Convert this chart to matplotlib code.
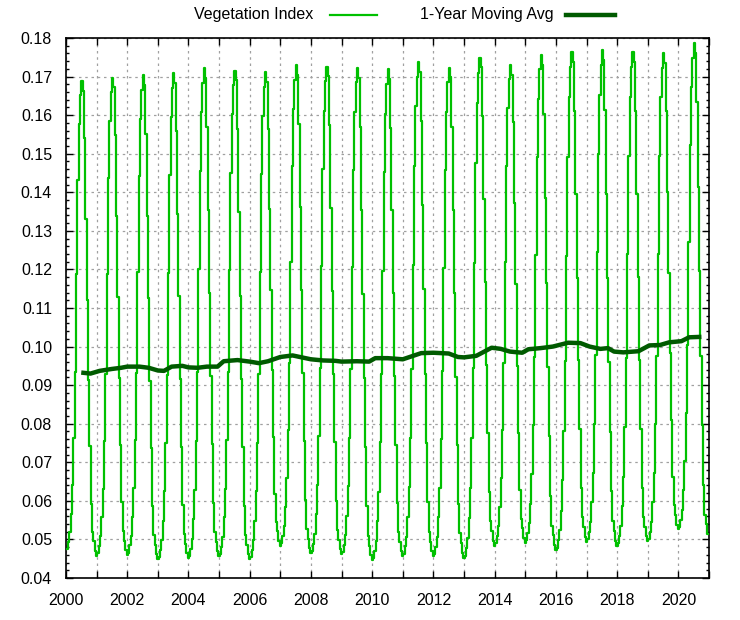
import numpy as np
import matplotlib
matplotlib.use("Agg")
import matplotlib.pyplot as plt
from matplotlib.lines import Line2D
from matplotlib.ticker import MultipleLocator, FormatStrFormatter

plt.rcParams['font.family'] = ['Liberation Sans', 'DejaVu Sans']

# 16-day composites, 23 per year, starting at 2000.0
samples_per_year = 23
vi_values = [
    0.0475, 0.0476, 0.0494, 0.0519, 0.0567, 0.0641, 0.0762, 0.0933, 0.1189, 0.1432, 0.1578, 0.1651, 0.1688, 0.1663, 0.1540, 0.1331, 0.1122, 0.0913, 0.0741, 0.0593, 0.0520, 0.0495, 0.0470,  # 2000
    0.0458, 0.0464, 0.0483, 0.0508, 0.0557, 0.0631, 0.0755, 0.0929, 0.1189, 0.1437, 0.1585, 0.1660, 0.1697, 0.1672, 0.1549, 0.1338, 0.1128, 0.0918, 0.0745, 0.0596, 0.0522, 0.0497, 0.0472,  # 2001
    0.0460, 0.0466, 0.0485, 0.0510, 0.0559, 0.0634, 0.0758, 0.0932, 0.1193, 0.1442, 0.1591, 0.1666, 0.1703, 0.1678, 0.1552, 0.1339, 0.1126, 0.0912, 0.0737, 0.0586, 0.0511, 0.0486, 0.0461,  # 2002
    0.0448, 0.0454, 0.0473, 0.0498, 0.0549, 0.0625, 0.0751, 0.0927, 0.1192, 0.1444, 0.1596, 0.1671, 0.1709, 0.1684, 0.1558, 0.1344, 0.1130, 0.0916, 0.0740, 0.0589, 0.0514, 0.0489, 0.0464,  # 2003
    0.0451, 0.0457, 0.0476, 0.0502, 0.0553, 0.0629, 0.0756, 0.0934, 0.1201, 0.1455, 0.1608, 0.1684, 0.1722, 0.1697, 0.1570, 0.1355, 0.1140, 0.0924, 0.0747, 0.0595, 0.0519, 0.0494, 0.0469,  # 2004
    0.0456, 0.0462, 0.0481, 0.0506, 0.0557, 0.0632, 0.0758, 0.0934, 0.1199, 0.1451, 0.1602, 0.1677, 0.1715, 0.1690, 0.1563, 0.1348, 0.1132, 0.0917, 0.0739, 0.0587, 0.0511, 0.0486, 0.0461,  # 2005
    0.0448, 0.0454, 0.0473, 0.0499, 0.0549, 0.0625, 0.0751, 0.0928, 0.1194, 0.1447, 0.1598, 0.1674, 0.1712, 0.1687, 0.1565, 0.1356, 0.1147, 0.0938, 0.0766, 0.0619, 0.0545, 0.0521, 0.0496,  # 2006
    0.0484, 0.0490, 0.0509, 0.0534, 0.0584, 0.0658, 0.0783, 0.0957, 0.1219, 0.1468, 0.1617, 0.1692, 0.1729, 0.1704, 0.1577, 0.1362, 0.1147, 0.0932, 0.0755, 0.0603, 0.0527, 0.0502, 0.0477,  # 2007
    0.0464, 0.0470, 0.0489, 0.0514, 0.0565, 0.0641, 0.0767, 0.0944, 0.1209, 0.1461, 0.1612, 0.1688, 0.1726, 0.1701, 0.1574, 0.1359, 0.1144, 0.0929, 0.0752, 0.0600, 0.0524, 0.0499, 0.0474,  # 2008
    0.0461, 0.0467, 0.0486, 0.0511, 0.0562, 0.0638, 0.0764, 0.0941, 0.1206, 0.1458, 0.1609, 0.1685, 0.1723, 0.1697, 0.1570, 0.1353, 0.1136, 0.0918, 0.0740, 0.0586, 0.0510, 0.0484, 0.0459,  # 2009
    0.0446, 0.0452, 0.0471, 0.0497, 0.0548, 0.0624, 0.0752, 0.0930, 0.1197, 0.1452, 0.1604, 0.1681, 0.1719, 0.1694, 0.1567, 0.1353, 0.1138, 0.0923, 0.0746, 0.0595, 0.0519, 0.0494, 0.0469,  # 2010
    0.0456, 0.0462, 0.0482, 0.0507, 0.0559, 0.0635, 0.0764, 0.0943, 0.1212, 0.1469, 0.1623, 0.1700, 0.1738, 0.1712, 0.1584, 0.1366, 0.1148, 0.0930, 0.0751, 0.0597, 0.0520, 0.0494, 0.0469,  # 2011
    0.0456, 0.0462, 0.0481, 0.0507, 0.0557, 0.0633, 0.0760, 0.0937, 0.1204, 0.1457, 0.1609, 0.1685, 0.1723, 0.1698, 0.1570, 0.1354, 0.1138, 0.0922, 0.0744, 0.0592, 0.0516, 0.0490, 0.0465,  # 2012
    0.0452, 0.0458, 0.0478, 0.0504, 0.0556, 0.0634, 0.0763, 0.0945, 0.1217, 0.1477, 0.1632, 0.1710, 0.1749, 0.1724, 0.1597, 0.1382, 0.1167, 0.0952, 0.0775, 0.0623, 0.0547, 0.0522, 0.0497,  # 2013
    0.0484, 0.0490, 0.0509, 0.0534, 0.0584, 0.0658, 0.0783, 0.0957, 0.1219, 0.1468, 0.1618, 0.1693, 0.1730, 0.1705, 0.1581, 0.1371, 0.1161, 0.0950, 0.0777, 0.0628, 0.0554, 0.0529, 0.0504,  # 2014
    0.0492, 0.0498, 0.0517, 0.0543, 0.0593, 0.0669, 0.0796, 0.0973, 0.1238, 0.1491, 0.1643, 0.1719, 0.1757, 0.1731, 0.1603, 0.1384, 0.1166, 0.0947, 0.0768, 0.0613, 0.0536, 0.0511, 0.0485,  # 2015
    0.0472, 0.0478, 0.0498, 0.0524, 0.0575, 0.0653, 0.0782, 0.0963, 0.1234, 0.1492, 0.1647, 0.1724, 0.1763, 0.1738, 0.1611, 0.1395, 0.1179, 0.0964, 0.0786, 0.0634, 0.0557, 0.0532, 0.0507,  # 2016
    0.0494, 0.0500, 0.0519, 0.0545, 0.0596, 0.0672, 0.0800, 0.0978, 0.1246, 0.1500, 0.1653, 0.1730, 0.1768, 0.1742, 0.1614, 0.1396, 0.1177, 0.0959, 0.0779, 0.0625, 0.0548, 0.0523, 0.0497,  # 2017
    0.0484, 0.0490, 0.0510, 0.0535, 0.0586, 0.0663, 0.0791, 0.0970, 0.1239, 0.1494, 0.1648, 0.1725, 0.1763, 0.1738, 0.1611, 0.1395, 0.1180, 0.0964, 0.0787, 0.0634, 0.0558, 0.0533, 0.0508,  # 2018
    0.0495, 0.0501, 0.0520, 0.0546, 0.0596, 0.0672, 0.0799, 0.0976, 0.1241, 0.1494, 0.1646, 0.1722, 0.1760, 0.1735, 0.1612, 0.1402, 0.1192, 0.0983, 0.0810, 0.0662, 0.0588, 0.0563, 0.0538,  # 2019
    0.0526, 0.0532, 0.0551, 0.0576, 0.0627, 0.0703, 0.0829, 0.1005, 0.1270, 0.1522, 0.1674, 0.1749, 0.1787, 0.1761, 0.1633, 0.1414, 0.1195, 0.0976, 0.0796, 0.0642, 0.0564, 0.0539, 0.0513,  # 2020
]
vi_dates = 2000 + np.arange(len(vi_values)) / samples_per_year

# 1-year moving average
ma_dates = [2000.57, 2000.8, 2001.1, 2001.5, 2001.8, 2002.0, 2002.4, 2002.7, 2003.0, 2003.2,
            2003.45, 2003.8, 2004.0, 2004.3, 2004.6, 2004.95, 2005.15, 2005.6, 2006.0, 2006.3,
            2006.6, 2007.0, 2007.4, 2007.7, 2008.0, 2008.4, 2008.8, 2009.0, 2009.5, 2009.9,
            2010.1, 2010.5, 2011.0, 2011.3, 2011.6, 2012.0, 2012.5, 2012.8, 2013.0, 2013.4,
            2013.9, 2014.2, 2014.5, 2014.9, 2015.1, 2015.5, 2015.9, 2016.4, 2016.8, 2017.1,
            2017.45, 2017.7, 2017.9, 2018.2, 2018.7, 2019.05, 2019.4, 2019.7, 2020.1, 2020.35,
            2020.68]
ma_values = [0.0932, 0.0930, 0.0937, 0.0942, 0.0945, 0.0948, 0.0948, 0.0945, 0.0938, 0.0937,
             0.0948, 0.0950, 0.0946, 0.0945, 0.0948, 0.0948, 0.0962, 0.0965, 0.0961, 0.0957,
             0.0962, 0.0973, 0.0977, 0.0972, 0.0967, 0.0964, 0.0963, 0.0961, 0.0962, 0.0961,
             0.0970, 0.0970, 0.0967, 0.0975, 0.0983, 0.0984, 0.0982, 0.0973, 0.0972, 0.0976,
             0.0997, 0.0994, 0.0987, 0.0984, 0.0993, 0.0996, 0.1000, 0.1010, 0.1009, 0.1000,
             0.0994, 0.0996, 0.0987, 0.0985, 0.0988, 0.1003, 0.1004, 0.1011, 0.1014, 0.1024,
             0.1025]

light_green = '#00c000'
dark_green = '#005a00'

fig = plt.figure(figsize=(7.4, 6.2), dpi=100)
fig.subplots_adjust(left=66 / 740, right=709 / 740, bottom=42 / 620, top=582 / 620)
ax = fig.add_subplot(111)

ax.plot(vi_dates, vi_values, color=light_green, lw=1.6, drawstyle='steps-mid', zorder=3)
ax.plot(ma_dates, ma_values, color=dark_green, lw=3.2, zorder=4)

ax.set_xlim(2000, 2021)
ax.set_ylim(0.04, 0.18)
ax.xaxis.set_major_locator(MultipleLocator(2))
ax.xaxis.set_minor_locator(MultipleLocator(1))
ax.yaxis.set_major_locator(MultipleLocator(0.01))
ax.yaxis.set_minor_locator(MultipleLocator(0.002))
ax.yaxis.set_major_formatter(FormatStrFormatter('%.2f'))
ax.xaxis.set_major_formatter(FormatStrFormatter('%d'))

ax.tick_params(which='both', direction='in', top=True, right=True, labelsize=11.5, colors='black')
ax.tick_params(which='major', length=5, width=1)
ax.tick_params(which='minor', length=2.5, width=1)
ax.tick_params(axis='x', which='minor', length=5)
ax.tick_params(axis='x', pad=11)
ax.tick_params(axis='y', pad=10)

ax.grid(True, which='major', axis='y', color='#a0a0a0', ls=(0, (2, 3)), lw=0.9)
ax.grid(True, which='both', axis='x', color='#a0a0a0', ls=(0, (2, 3)), lw=0.9)
for s in ax.spines.values():
    s.set_linewidth(1.2)

# gnuplot-style key above the plot
ky = 1 - 15 / 620
fig.text(313 / 740, ky, 'Vegetation Index', ha='right', va='center', fontsize=11.5)
fig.add_artist(Line2D([330 / 740, 377 / 740], [ky, ky], color=light_green, lw=1.6))
fig.text(554 / 740, ky, '1-Year Moving Avg', ha='right', va='center', fontsize=11.5)
fig.add_artist(Line2D([566 / 740, 615 / 740], [ky, ky], color=dark_green, lw=3.2))

fig.savefig('out.png', dpi=100)
